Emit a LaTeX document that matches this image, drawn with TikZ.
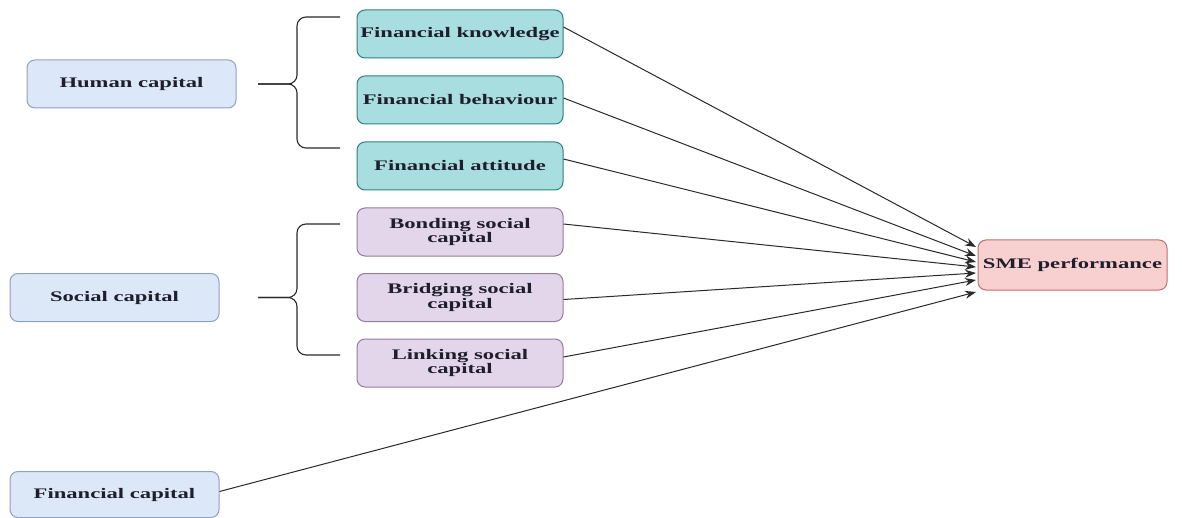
\documentclass[tikz,border=0pt]{standalone}
\usepackage{fontspec}
\setmainfont{Liberation Serif}[FakeStretch=1.55]
\usetikzlibrary{arrows.meta}
\definecolor{bluefill}{HTML}{DCE8F8}
\definecolor{blueline}{HTML}{8AA2C4}
\definecolor{tealfill}{HTML}{A9DEE0}
\definecolor{tealline}{HTML}{2F7F80}
\definecolor{purpfill}{HTML}{E4D6EA}
\definecolor{purpline}{HTML}{927C9E}
\definecolor{redfill}{HTML}{F8D0D0}
\definecolor{redline}{HTML}{C07070}
\definecolor{txt}{HTML}{1E1E2C}
\definecolor{lin}{HTML}{2A2A2A}
\tikzset{
  box/.style={rounded corners=4pt, line width=0.5pt, align=center,
    font=\fontsize{7.3}{7.2}\selectfont\bfseries, text=txt, inner sep=0pt},
  capbox/.style={box, fill=bluefill, draw=blueline, minimum width=104.5pt, minimum height=24pt},
  tealbox/.style={box, fill=tealfill, draw=tealline, minimum width=103pt, minimum height=24pt},
  purpbox/.style={box, fill=purpfill, draw=purpline, minimum width=103pt, minimum height=24pt},
  smebox/.style={box, fill=redfill, draw=redline, minimum width=94.5pt, minimum height=25pt},
  conn/.style={draw=lin, line width=0.5pt, -{Stealth[length=5.5pt,width=4pt]}},
  brace/.style={draw=lin, line width=0.55pt, rounded corners=4.5pt}
}
\begin{document}
\begin{tikzpicture}[x=0.5pt,y=-0.5pt]
\useasboundingbox (0,0) rectangle (1182,518);
% left boxes
\node[capbox] (hc) at (131.5,84) {Human capital};
\node[capbox] (sc) at (114.5,297.5) {Social capital};
\node[capbox, minimum height=23pt] (fc) at (114.5,494.5) {Financial capital};
% middle boxes
\node[tealbox] (fk) at (460,34) {Financial knowledge};
\node[tealbox] (fb) at (460,100) {Financial behaviour};
\node[tealbox] (fa) at (460,166) {Financial attitude};
\node[purpbox] (bo) at (460,232) {Bonding social\\capital};
\node[purpbox] (br) at (460,297.5) {Bridging social\\capital};
\node[purpbox] (li) at (460,363) {Linking social\\capital};
% outcome
\node[smebox] (sme) at (1072.5,265) {SME performance};
% braces
\coordinate (b1t) at (340,17);
\coordinate (b1b) at (340,148);
\coordinate (b1m) at (258,84);
\coordinate (b2t) at (340,224);
\coordinate (b2b) at (340,355);
\coordinate (b2m) at (258,297.5);
\draw[brace] (b1t) -- (297,17) -- (297,84) -- (b1m);
\draw[brace] (b1b) -- (297,148) -- (297,84) -- (b1m);
\draw[brace] (b2t) -- (297,224) -- (297,297.5) -- (b2m);
\draw[brace] (b2b) -- (297,355) -- (297,297.5) -- (b2m);
% arrow tips
\coordinate (t1) at (976,247);
\coordinate (t2) at (976,256);
\coordinate (t3) at (976,262);
\coordinate (t4) at (976,267);
\coordinate (t5) at (976,273);
\coordinate (t6) at (976,280);
\coordinate (t7) at (976,292);
\draw[conn] ([yshift=3.5pt]fk.east) -- (t1);
\draw[conn] ([yshift=1pt]fb.east) -- (t2);
\draw[conn] ([yshift=3.5pt]fa.east) -- (t3);
\draw[conn] ([yshift=4pt]bo.east) -- (t4);
\draw[conn] ([yshift=-1pt]br.east) -- (t5);
\draw[conn] ([yshift=3pt]li.east) -- (t6);
\draw[conn] ([yshift=1.5pt]fc.east) -- (t7);
\end{tikzpicture}
\end{document}
